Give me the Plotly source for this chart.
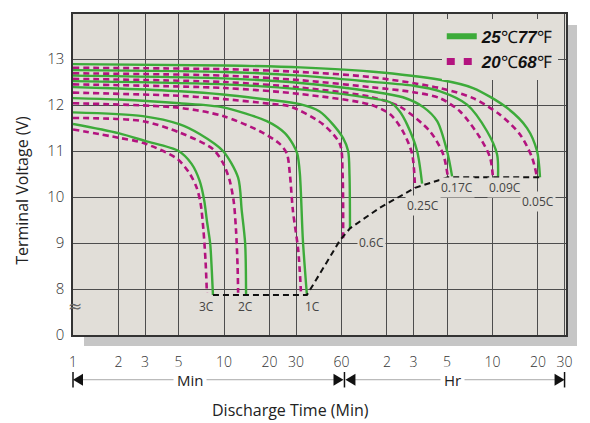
import numpy as np
import plotly.graph_objects as go

# ---------------- data (time in minutes, voltage in V) ----------------
RATES = ["3C", "2C", "1C", "0.6C", "0.25C", "0.17C", "0.09C", "0.05C"]

T_3C_25 = [1, 2, 3, 5, 6.1, 6.9, 7.4, 7.7, 8.1, 8.3, 8.45]
V_3C_25 = [11.59, 11.39, 11.22, 11.0, 10.72, 10.35, 9.92, 9.49, 8.99, 8.41, 7.87]
T_3C_20 = [1, 2, 2.9, 4.9, 5.95, 6.6, 7.0, 7.3, 7.55, 7.7]
V_3C_20 = [11.47, 11.29, 11.18, 10.83, 10.5, 10.2, 9.86, 9.3, 8.6, 7.92]

T_2C_25 = [1, 2.9, 5.1, 6.9, 9.85, 12.4, 13.1, 13.8, 14.0]
V_2C_25 = [11.84, 11.76, 11.58, 11.37, 11.0, 10.42, 9.71, 9.0, 7.87]
T_2C_20 = [1, 2.9, 5.1, 8.4, 9.85, 10.9, 11.6, 12.0, 12.3, 12.4]
V_2C_20 = [11.72, 11.65, 11.4, 11.05, 10.74, 10.36, 9.9, 9.3, 8.5, 7.92]

T_1C_25 = [1, 2, 5.1, 9.85, 19.2, 25.3, 28.6, 30.6, 31.8, 33.3, 35.4]
V_1C_25 = [12.15, 12.12, 12.04, 11.95, 11.65, 11.39, 11.15, 10.94, 10.51, 9.06, 7.87]
T_1C_20 = [1, 5.1, 9.85, 17.3, 23.5, 26.1, 27.3, 28.6, 31, 32.3]
V_1C_20 = [12.04, 11.94, 11.76, 11.43, 11.15, 10.94, 10.5, 9.7, 8.85, 7.95]

T_06C_25 = [1, 2, 5.1, 9.85, 19.2, 31.8, 43, 52.6, 61.5, 66.4, 67.8, 68.3]
V_06C_25 = [12.39, 12.36, 12.30, 12.23, 12.12, 12.02, 11.86, 11.58, 11.28, 11.0, 10.46, 9.32]
T_06C_20 = [1, 5.1, 10, 20, 27.4, 45.3, 58.6, 61.0, 61.5]
V_06C_20 = [12.27, 12.2, 12.13, 12.03, 11.97, 11.58, 11.15, 10.5, 9.06]

T_025C_25 = [1, 10, 32, 93, 126, 145, 163, 190, 205]
V_025C_25 = [12.52, 12.45, 12.34, 12.15, 12.06, 11.87, 11.58, 11.0, 10.29]
T_025C_20 = [1, 10, 32, 93, 126, 153, 176, 184]
V_025C_20 = [12.45, 12.37, 12.24, 12.01, 11.80, 11.43, 10.94, 10.2]

T_017C_25 = [1, 10, 32, 93, 153, 210, 258, 300, 324]
V_017C_25 = [12.64, 12.58, 12.48, 12.30, 12.17, 11.95, 11.65, 11.0, 10.45]
T_017C_20 = [1, 10, 32, 93, 147, 231, 282, 304]
V_017C_20 = [12.57, 12.5, 12.38, 12.18, 11.96, 11.43, 10.94, 10.43]

T_009C_25 = [1, 10, 32, 93, 180, 270, 407, 552, 643, 653]
V_009C_25 = [12.76, 12.72, 12.64, 12.51, 12.42, 12.30, 12.01, 11.43, 10.93, 10.45]
T_009C_20 = [1, 10, 32, 93, 180, 269, 366, 496, 578, 604]
V_009C_20 = [12.69, 12.64, 12.54, 12.39, 12.28, 12.15, 11.86, 11.29, 10.86, 10.43]

T_005C_25 = [1, 10, 32, 93, 269, 446, 748, 1016, 1183, 1238]
V_005C_25 = [12.89, 12.86, 12.82, 12.73, 12.55, 12.37, 11.94, 11.5, 11.0, 10.43]
T_005C_20 = [1, 10, 32, 93, 269, 446, 673, 913, 1096, 1183]
V_005C_20 = [12.81, 12.78, 12.72, 12.61, 12.37, 12.15, 11.79, 11.36, 10.86, 10.43]

# end-of-discharge boundary (black dashed)
BND_T = [8.45, 35.4, 45.3, 58.6, 68.3, 108, 184, 304, 1238]
BND_V = [7.87, 7.87, 8.45, 9.06, 9.32, 9.77, 10.2, 10.43, 10.43]

# rate label positions
LBL_T = [7.7, 13.8, 38.8, 95.5, 208, 349, 726, 1200]
LBL_V = [7.62, 7.62, 7.62, 9.02, 9.82, 10.2, 10.2, 9.9]

# axis ticks
X_TICKS = [1, 2, 3, 5, 10, 20, 30, 60, 120, 180, 300, 600, 1200, 1800]
X_TEXT = ["1", "2", "3", "5", "10", "20", "30", "60", "2", "3", "5", "10", "20", "30"]
Y_TICKS = [7, 8, 9, 10, 11, 12, 13]
Y_TEXT = ["0", "8", "9", "10", "11", "12", "13"]

# ---------------- styling ----------------
BG = "#e1ded8"
SHADOW = "#c6c6c6"
GREEN = "#3dab3a"
PINK = "#b3137f"
GRID = "#4d4d4d"
FONT = "Open Sans"
XMAX = 1840
R = np.log10(XMAX)

curves_25 = [(T_3C_25, V_3C_25), (T_2C_25, V_2C_25), (T_1C_25, V_1C_25), (T_06C_25, V_06C_25),
             (T_025C_25, V_025C_25), (T_017C_25, V_017C_25), (T_009C_25, V_009C_25), (T_005C_25, V_005C_25)]
curves_20 = [(T_3C_20, V_3C_20), (T_2C_20, V_2C_20), (T_1C_20, V_1C_20), (T_06C_20, V_06C_20),
             (T_025C_20, V_025C_20), (T_017C_20, V_017C_20), (T_009C_20, V_009C_20), (T_005C_20, V_005C_20)]

fig = go.Figure()

for rate, (t, v) in zip(RATES, curves_20):
    fig.add_trace(go.Scatter(x=t, y=v, mode="lines", name=rate + " 20C", showlegend=False,
                             line=dict(color=PINK, width=2.6, dash="6px,4px", shape="spline", smoothing=0.8)))
for rate, (t, v) in zip(RATES, curves_25):
    fig.add_trace(go.Scatter(x=t, y=v, mode="lines", name=rate + " 25C", showlegend=False,
                             line=dict(color=GREEN, width=2.4, shape="spline", smoothing=0.8)))

fig.add_trace(go.Scatter(x=BND_T, y=BND_V, mode="lines", showlegend=False,
                         line=dict(color="#111111", width=2, dash="6px,4px")))

# legend entries
serif = "<span style='font-family:Liberation Serif;font-weight:normal;font-style:normal'>"
fig.add_trace(go.Scatter(x=[None], y=[None], mode="lines",
                         name="<b><i>25</i></b>" + serif + "℃</span><b><i>77</i></b>" + serif + "℉</span>",
                         line=dict(color=GREEN, width=6)))
fig.add_trace(go.Scatter(x=[None], y=[None], mode="lines",
                         name="<b><i>20</i></b>" + serif + "℃</span><b><i>68</i></b>" + serif + "℉</span>",
                         line=dict(color=PINK, width=7, dash="8px,9px")))

# rate labels
for rate, t, v in zip(RATES, LBL_T, LBL_V):
    fig.add_annotation(x=np.log10(t), y=v, xref="x", yref="y", text=rate, showarrow=False,
                       font=dict(family=FONT, size=12, color="#444444"), bgcolor=BG, borderpad=1)

# axis break symbol
fig.add_annotation(x=0.004, y=7.62, xref="paper", yref="y", text="≈", showarrow=False,
                   xanchor="center", yanchor="middle",
                   font=dict(family="DejaVu Sans", size=17, color="#666666"))

# shadow + plot background
dx, dy = 11 / 493, 11 / 323
shapes = [
    dict(type="rect", xref="paper", yref="paper", x0=dx, x1=1 + dx, y0=-dy, y1=1 - dy,
         fillcolor=SHADOW, line=dict(width=0), layer="below"),
    dict(type="rect", xref="paper", yref="paper", x0=0, x1=1, y0=0, y1=1,
         fillcolor=BG, line=dict(width=0), layer="below"),
]

# Min / Hr range arrows under the axis
ya = -45 / 323
h = 6 / 323
p60 = np.log10(60) / R
pend = np.log10(1800) / R
tw = 10 / 493
gray = "#a8a8a8"
shapes += [
    dict(type="line", xref="paper", yref="paper", x0=0.01, x1=p60 - 0.01, y0=ya, y1=ya, line=dict(color=gray, width=1)),
    dict(type="line", xref="paper", yref="paper", x0=p60 + 0.01, x1=pend - 0.01, y0=ya, y1=ya, line=dict(color=gray, width=1)),
]
def tri(tip, direction):
    base = tip - direction * tw
    return dict(type="path", xref="paper", yref="paper",
                path=f"M {tip},{ya} L {base},{ya + h} L {base},{ya - h} Z",
                fillcolor="#111111", line=dict(width=0))
def bar(x):
    return dict(type="line", xref="paper", yref="paper", x0=x, x1=x, y0=ya - h * 1.3, y1=ya + h * 1.3,
                line=dict(color="#111111", width=1.5))
shapes += [tri(0.0, -1), bar(0.0), tri(p60 + 0.004, 1), bar(p60 + 0.006), tri(p60 + 0.008, -1),
           tri(pend, 1), bar(pend)]

fig.add_annotation(x=(190 - 73) / 493, y=ya, xref="paper", yref="paper", text="Min", showarrow=False,
                   xanchor="center", yanchor="middle",
                   font=dict(family=FONT, size=15, color="#222222"), bgcolor="white", borderpad=3)
fig.add_annotation(x=(452 - 73) / 493, y=ya, xref="paper", yref="paper", text="Hr", showarrow=False,
                   xanchor="center", yanchor="middle",
                   font=dict(family=FONT, size=15, color="#222222"), bgcolor="white", borderpad=3)

# axis titles
fig.add_annotation(x=-51 / 493, y=0.449, xref="paper", yref="paper", text="Terminal Voltage (V)",
                   textangle=-90, showarrow=False, xanchor="center", yanchor="middle",
                   font=dict(family=FONT, size=16, color="#222222"))
fig.add_annotation(x=0.442, y=-75 / 323, xref="paper", yref="paper", text="Discharge Time (Min)",
                   showarrow=False, xanchor="center", yanchor="middle",
                   font=dict(family=FONT, size=16, color="#222222"))

fig.update_layout(
    width=590, height=423,
    margin=dict(l=73, r=24, t=12, b=88),
    paper_bgcolor="white", plot_bgcolor=BG,
    shapes=shapes,
    legend=dict(x=0.748, y=0.985, xanchor="left", yanchor="top", bgcolor=BG,
                font=dict(family="Liberation Sans", size=17, color="#111111"),
                itemwidth=30, tracegroupgap=0),
    xaxis=dict(type="log", range=[0, R], tickvals=X_TICKS, ticktext=X_TEXT,
               showgrid=True, gridcolor=GRID, gridwidth=1, zeroline=False,
               showline=True, linecolor="#333333", linewidth=1.5, mirror=True,
               ticks="outside", ticklen=13, tickcolor="rgba(0,0,0,0)",
               tickfont=dict(family=FONT, size=14, color="#333333", weight=300)),
    yaxis=dict(range=[7, 13.98], tickvals=Y_TICKS, ticktext=Y_TEXT,
               showgrid=True, gridcolor=GRID, gridwidth=1, zeroline=False,
               showline=True, linecolor="#333333", linewidth=1.5, mirror=True,
               ticks="outside", ticklen=4, tickcolor="rgba(0,0,0,0)",
               tickfont=dict(family=FONT, size=15, color="#333333", weight=300)),
)

fig.write_html("out.html", config={"displayModeBar": False},
               post_script="document.body.style.margin='0';")
